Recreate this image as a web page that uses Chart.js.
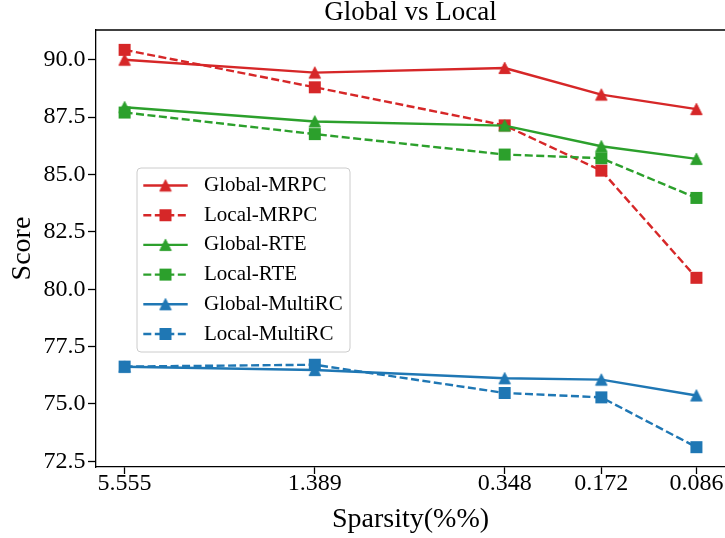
<!DOCTYPE html>
<html>
<head>
<meta charset="utf-8">
<script src="https://cdn.jsdelivr.net/npm/chart.js@4.4.1/dist/chart.umd.min.js"></script>
<style>
    html, body { margin: 0; padding: 0; background: #fff; overflow: hidden; }
    canvas { display: block; }
</style>
</head>
<body>
<canvas id="chart" width="725" height="538"></canvas>
<script>
// -----------------------------
// DATA
// -----------------------------
const sparsity = [5.555, 1.389, 0.348, 0.172, 0.086];
const xTickLabels = ["5.555", "1.389", "0.348", "0.172", "0.086"];
const yTicks = [72.5, 75.0, 77.5, 80.0, 82.5, 85.0, 87.5, 90.0];

const globalMRPC = [90.0, 89.44, 89.64, 88.48, 87.85];
const localMRPC = [90.43, 88.8, 87.14, 85.17, 80.5];
const globalRTE = [87.93, 87.31, 87.13, 86.23, 85.68];
const localRTE = [87.7, 86.76, 85.87, 85.71, 83.98];
const globalMultiRC = [76.62, 76.48, 76.12, 76.06, 75.37];
const localMultiRC = [76.63, 76.71, 75.48, 75.29, 73.12];

const RED = "#d62728";
const GREEN = "#2ca02c";
const BLUE = "#1f77b4";
const FONT = "'Liberation Serif', 'Times New Roman', serif";

// -----------------------------
// MARKERS (matplotlib-like)
// -----------------------------
function makeMarker(shape, color) {
    const c = document.createElement("canvas");
    c.width = 14;
    c.height = 14;
    const g = c.getContext("2d");
    g.fillStyle = color;
    g.strokeStyle = color;
    g.lineWidth = 1;
    if (shape === "tri") {
        g.beginPath();
        g.moveTo(7, 1.3);
        g.lineTo(12.7, 12.6);
        g.lineTo(1.3, 12.6);
        g.closePath();
        g.fill();
        g.stroke();
    } else {
        g.fillRect(1, 1, 12, 12);
    }
    return c;
}

function series(label, values, color, local) {
    const marker = makeMarker(local ? "sq" : "tri", color);
    return {
        label: label,
        data: sparsity.map((x, i) => ({ x: x, y: values[i] })),
        borderColor: color,
        backgroundColor: color,
        borderWidth: 2.4,
        borderDash: local ? [8, 3.5] : [],
        borderCapStyle: "butt",
        borderJoinStyle: "round",
        pointStyle: marker,
        pointRadius: 6,
        tension: 0,
        clip: false,
        marker: marker
    };
}

const datasets = [
    series("Global-MRPC", globalMRPC, RED, false),
    series("Local-MRPC", localMRPC, RED, true),
    series("Global-RTE", globalRTE, GREEN, false),
    series("Local-RTE", localRTE, GREEN, true),
    series("Global-MultiRC", globalMultiRC, BLUE, false),
    series("Local-MultiRC", localMultiRC, BLUE, true)
];
// later series on top, as in matplotlib
datasets.forEach((d, i) => { d.order = datasets.length - i; });

// -----------------------------
// AXIS RANGES (5% margins)
// -----------------------------
const allY = [].concat(globalMRPC, localMRPC, globalRTE, localRTE, globalMultiRC, localMultiRC);
const yLo = Math.min(...allY);
const yHi = Math.max(...allY);
const yPad = (yHi - yLo) * 0.05;

const lx = sparsity.map(v => Math.log2(v));
const lxLo = Math.min(...lx);
const lxHi = Math.max(...lx);
const lxPad = (lxHi - lxLo) * 0.05;

// ----------------------------------
// TITLE, TOP SPINE, LEGEND
// ----------------------------------
const decor = {
    id: "decor",
    afterDraw(chart) {
        const ctx = chart.ctx;
        const a = chart.chartArea;
        ctx.save();

        // title
        ctx.fillStyle = "#000";
        ctx.font = "27px " + FONT;
        ctx.textAlign = "center";
        ctx.textBaseline = "middle";
        ctx.fillText("Global vs Local", (a.left + a.right) / 2, 12.5);

        // top spine
        ctx.strokeStyle = "#000";
        ctx.lineWidth = 1.3;
        ctx.beginPath();
        ctx.moveTo(a.left - 0.65, a.top);
        ctx.lineTo(a.right, a.top);
        ctx.stroke();

        // legend box
        const bx = 137, by = 168, bw = 213, bh = 184, r = 4;
        ctx.beginPath();
        ctx.moveTo(bx + r, by);
        ctx.arcTo(bx + bw, by, bx + bw, by + bh, r);
        ctx.arcTo(bx + bw, by + bh, bx, by + bh, r);
        ctx.arcTo(bx, by + bh, bx, by, r);
        ctx.arcTo(bx, by, bx + bw, by, r);
        ctx.closePath();
        ctx.fillStyle = "rgba(255,255,255,0.8)";
        ctx.fill();
        ctx.strokeStyle = "#cccccc";
        ctx.lineWidth = 1;
        ctx.stroke();

        chart.data.datasets.forEach((d, i) => {
            const y = 185.5 + i * 29.7;
            ctx.strokeStyle = d.borderColor;
            ctx.lineWidth = d.borderWidth;
            ctx.lineCap = "butt";
            ctx.setLineDash(d.borderDash);
            ctx.beginPath();
            ctx.moveTo(143.3, y);
            ctx.lineTo(187.7, y);
            ctx.stroke();
            ctx.setLineDash([]);
            ctx.drawImage(d.marker, 165.5 - 7, y - 7);

            ctx.fillStyle = "#000";
            ctx.font = "21px " + FONT;
            ctx.textAlign = "left";
            ctx.textBaseline = "middle";
            ctx.fillText(d.label, 204, y);
        });

        ctx.restore();
    }
};

// ----------------------------------
// CHART
// ----------------------------------
new Chart(document.getElementById("chart"), {
    type: "line",
    data: { datasets: datasets },
    plugins: [decor],
    options: {
        responsive: false,
        animation: false,
        devicePixelRatio: 1,
        layout: {
            autoPadding: false,
            padding: { top: 30, left: 0, right: 0, bottom: 0 }
        },
        plugins: {
            legend: { display: false },
            title: { display: false },
            tooltip: { enabled: false }
        },
        scales: {
            x: {
                type: "logarithmic",
                reverse: true,
                min: Math.pow(2, lxLo - lxPad),
                max: Math.pow(2, lxHi + lxPad),
                afterBuildTicks: (scale) => {
                    scale.ticks = sparsity.map(v => ({ value: v }));
                },
                afterFit: (scale) => {
                    scale.height = 71;
                    scale.paddingLeft = 0;
                    scale.paddingRight = 0;
                },
                ticks: {
                    callback: (value, index) => xTickLabels[index],
                    autoSkip: false,
                    maxRotation: 0,
                    padding: -2,
                    color: "#000",
                    font: { family: FONT, size: 24, lineHeight: 1 }
                },
                grid: {
                    drawOnChartArea: false,
                    tickLength: 7,
                    tickWidth: 1.3,
                    color: "#000"
                },
                border: { color: "#000", width: 1.3 },
                title: {
                    display: true,
                    text: "Sparsity(%%)",
                    color: "#000",
                    font: { family: FONT, size: 28 },
                    padding: { top: 0, bottom: 1.2 }
                }
            },
            y: {
                min: yLo - yPad,
                max: yHi + yPad,
                afterBuildTicks: (scale) => {
                    scale.ticks = yTicks.map(v => ({ value: v }));
                },
                afterFit: (scale) => {
                    scale.width = 96;
                    scale.paddingTop = 0;
                    scale.paddingBottom = 0;
                },
                ticks: {
                    callback: (value) => value.toFixed(1),
                    padding: 2.5,
                    color: "#000",
                    font: { family: FONT, size: 24 }
                },
                grid: {
                    drawOnChartArea: false,
                    tickLength: 8,
                    tickWidth: 1.3,
                    color: "#000"
                },
                border: { color: "#000", width: 1.3 },
                title: {
                    display: true,
                    text: "Score",
                    color: "#000",
                    font: { family: FONT, size: 28 },
                    padding: { top: 5.7, bottom: 0 }
                }
            }
        }
    }
});
</script>
</body>
</html>
